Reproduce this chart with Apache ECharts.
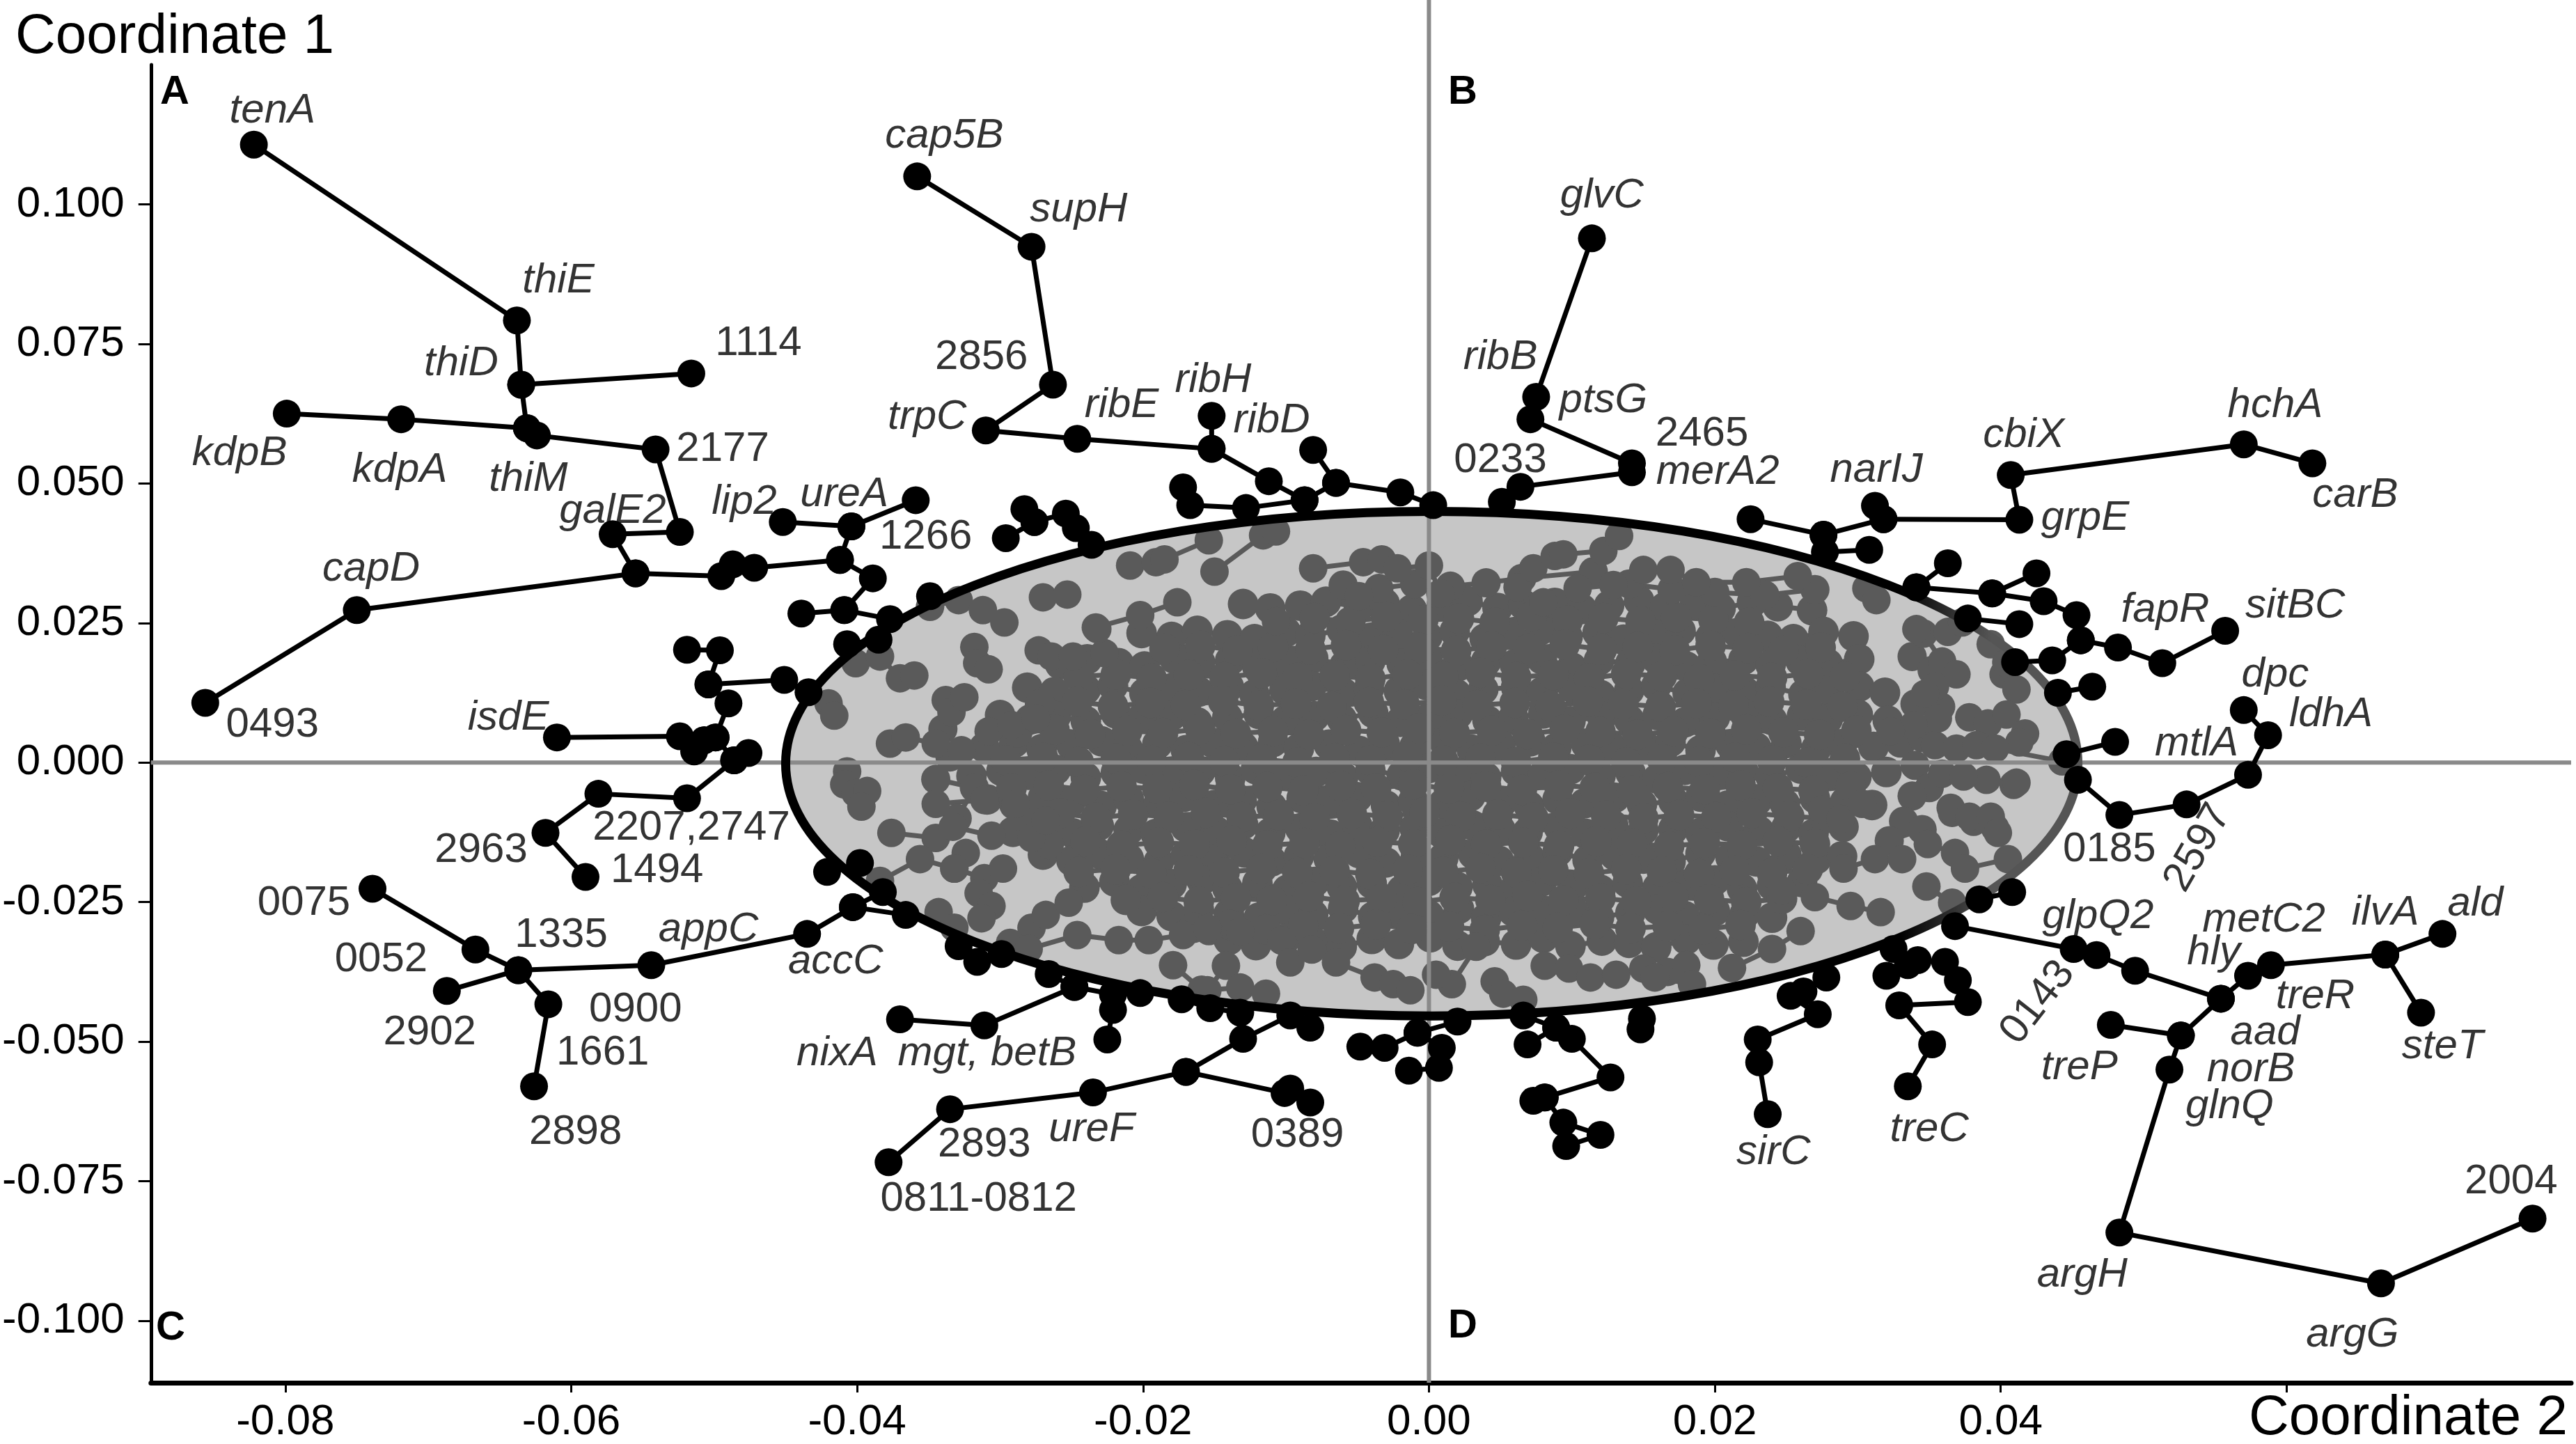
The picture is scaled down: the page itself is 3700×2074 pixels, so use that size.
<!DOCTYPE html>
<html><head><meta charset="utf-8">
<script src="https://cdn.jsdelivr.net/npm/echarts@6/dist/echarts.min.js"></script>
<style>html,body{margin:0;padding:0;background:#fff}#c{width:3700px;height:2074px}</style>
</head><body><div id="c"></div>
<script>
// ---------- axes ----------
const xRange = [-0.0894, 0.0799];
const yRange = [-0.1111, 0.125];
const xTickValues = [-0.08, -0.06, -0.04, -0.02, 0, 0.02, 0.04, 0.06];
const xLabelValues = [-0.08, -0.06, -0.04, -0.02, 0, 0.02, 0.04];
const yTickValues = [-0.1, -0.075, -0.05, -0.025, 0, 0.025, 0.05, 0.075, 0.1];
// confidence ellipse: centre x, centre y, radius x, radius y
const ellipseSpec = [0.0002, -0.0002, 0.0452, 0.0452];
const refLineV = [[0, -0.1111], [0, 0.1366]];
const refLineH = [[-0.0894, 0], [0.0799, 0]];

// ---------- dense core of the tree (inside ellipse) ----------
const coreRowA = [[-.0130,.0284],[-.0111,.0276],[-.0090,.0281],[-.0072,.0288],[-.0049,.0279],[-.0031,.0285],[-.0012,.0274],[.0009,.0282],[.0027,.0289],[.0048,.0277],[.0066,.0283],[.0088,.0286],[.0107,.0275],[.0126,.0281],[.0147,.0290],[.0165,.0278],[.0186,.0284],[.0204,.0276],[.0226,.0287],[.0244,.0280],[.0268,.0273]];
const coreRowB = [[-.0201,.0232],[-.0180,.0225],[-.0162,.0236],[-.0141,.0228],[-.0122,.0221],[-.0100,.0234],[-.0083,.0227],[-.0061,.0238],[-.0040,.0224],[-.0022,.0231],[-.0001,.0226],[.0018,.0235],[.0039,.0222],[.0057,.0230],[.0078,.0237],[.0097,.0225],[.0118,.0233],[.0136,.0220],[.0158,.0229],[.0176,.0236],[.0197,.0224],[.0216,.0232],[.0237,.0227],[.0255,.0221],[.0276,.0234],[.0297,.0226]];
const coreRowC = [[-.0258,.0176],[-.0239,.0185],[-.0217,.0178],[-.0199,.0172],[-.0178,.0186],[-.0160,.0179],[-.0139,.0183],[-.0120,.0171],[-.0099,.0180],[-.0081,.0187],[-.0059,.0174],[-.0041,.0182],[-.0019,.0177],[-.0001,.0188],[.0021,.0173],[.0040,.0181],[.0060,.0176],[.0079,.0185],[.0100,.0170],[.0119,.0183],[.0141,.0178],[.0159,.0186],[.0180,.0172],[.0198,.0180],[.0220,.0184],[.0239,.0175],[.0260,.0182],[.0279,.0177],[.0301,.0185]];
const coreRowD = [[-.0281,.0134],[-.0262,.0126],[-.0240,.0131],[-.0221,.0138],[-.0199,.0124],[-.0180,.0133],[-.0161,.0127],[-.0140,.0136],[-.0122,.0122],[-.0101,.0130],[-.0082,.0137],[-.0060,.0125],[-.0042,.0132],[-.0021,.0128],[-.0002,.0139],[.0019,.0123],[.0038,.0131],[.0061,.0135],[.0079,.0126],[.0101,.0133],[.0120,.0121],[.0140,.0129],[.0159,.0137],[.0181,.0124],[.0200,.0132],[.0221,.0127],[.0239,.0135],[.0262,.0122],[.0280,.0130],[.0301,.0136],[.0319,.0125]];
const coreRowE = [[-.0300,.0085],[-.0279,.0077],[-.0261,.0083],[-.0240,.0074],[-.0219,.0088],[-.0201,.0079],[-.0180,.0084],[-.0162,.0072],[-.0141,.0081],[-.0119,.0087],[-.0100,.0076],[-.0080,.0083],[-.0061,.0078],[-.0039,.0089],[-.0020,.0073],[.0001,.0082],[.0020,.0086],[.0041,.0075],[.0059,.0080],[.0080,.0088],[.0099,.0074],[.0121,.0083],[.0140,.0077],[.0160,.0085],[.0179,.0072],[.0200,.0081],[.0221,.0087],[.0240,.0076],[.0261,.0084],[.0279,.0078],[.0300,.0086],[.0321,.0075]];
const coreRowF = [[-.0311,.0027],[-.0290,.0036],[-.0271,.0024],[-.0250,.0031],[-.0229,.0038],[-.0211,.0026],[-.0190,.0033],[-.0170,.0022],[-.0151,.0035],[-.0130,.0028],[-.0109,.0037],[-.0091,.0025],[-.0070,.0032],[-.0049,.0021],[-.0031,.0034],[-.0010,.0029],[.0011,.0036],[.0030,.0023],[.0050,.0031],[.0071,.0038],[.0089,.0026],[.0110,.0033],[.0130,.0024],[.0151,.0030],[.0169,.0037],[.0190,.0022],[.0211,.0032],[.0229,.0027],[.0250,.0035],[.0271,.0025],[.0289,.0033],[.0311,.0028],[.0330,.0036]];
const coreRowG = [[-.0320,-.0024],[-.0299,-.0015],[-.0280,-.0022],[-.0261,-.0013],[-.0240,-.0027],[-.0219,-.0018],[-.0200,-.0011],[-.0181,-.0025],[-.0160,-.0016],[-.0139,-.0028],[-.0121,-.0012],[-.0100,-.0021],[-.0079,-.0017],[-.0060,-.0026],[-.0041,-.0014],[-.0019,-.0023],[.0000,-.0010],[.0021,-.0019],[.0040,-.0027],[.0061,-.0015],[.0080,-.0022],[.0099,-.0012],[.0120,-.0024],[.0141,-.0018],[.0160,-.0029],[.0179,-.0013],[.0201,-.0021],[.0220,-.0016],[.0239,-.0025],[.0260,-.0011],[.0281,-.0020],[.0299,-.0026],[.0320,-.0017]];
const coreRowH = [[-.0309,-.0066],[-.0290,-.0075],[-.0270,-.0063],[-.0251,-.0072],[-.0229,-.0078],[-.0210,-.0065],[-.0189,-.0073],[-.0171,-.0061],[-.0150,-.0076],[-.0131,-.0068],[-.0110,-.0079],[-.0089,-.0064],[-.0071,-.0071],[-.0050,-.0062],[-.0030,-.0077],[-.0011,-.0069],[.0010,-.0074],[.0029,-.0060],[.0051,-.0072],[.0070,-.0078],[.0090,-.0066],[.0109,-.0073],[.0130,-.0063],[.0149,-.0075],[.0171,-.0069],[.0190,-.0061],[.0209,-.0077],[.0230,-.0067],[.0249,-.0074],[.0270,-.0064],[.0291,-.0071],[.0310,-.0076]];
const coreRowI = [[-.0291,-.0124],[-.0270,-.0115],[-.0249,-.0127],[-.0231,-.0113],[-.0210,-.0121],[-.0191,-.0128],[-.0170,-.0116],[-.0149,-.0123],[-.0130,-.0111],[-.0111,-.0126],[-.0090,-.0118],[-.0069,-.0129],[-.0050,-.0114],[-.0031,-.0122],[-.0010,-.0117],[.0009,-.0127],[.0030,-.0112],[.0050,-.0120],[.0069,-.0125],[.0091,-.0116],[.0110,-.0128],[.0129,-.0113],[.0150,-.0121],[.0171,-.0119],[.0190,-.0126],[.0209,-.0114],[.0231,-.0123],[.0250,-.0117],[.0269,-.0128],[.0290,-.0115]];
const coreRowJ = [[-.0270,-.0165],[-.0250,-.0176],[-.0231,-.0163],[-.0210,-.0172],[-.0189,-.0178],[-.0170,-.0166],[-.0151,-.0174],[-.0129,-.0161],[-.0110,-.0177],[-.0091,-.0168],[-.0070,-.0173],[-.0049,-.0162],[-.0030,-.0179],[-.0009,-.0167],[.0010,-.0171],[.0031,-.0164],[.0049,-.0176],[.0070,-.0169],[.0090,-.0160],[.0111,-.0175],[.0130,-.0166],[.0150,-.0172],[.0169,-.0178],[.0190,-.0163],[.0211,-.0170],[.0229,-.0177],[.0250,-.0165],[.0271,-.0173],[.0289,-.0168]];
const coreRowK = [[-.0241,-.0224],[-.0220,-.0213],[-.0201,-.0227],[-.0180,-.0218],[-.0159,-.0211],[-.0141,-.0225],[-.0120,-.0216],[-.0099,-.0228],[-.0080,-.0214],[-.0061,-.0222],[-.0040,-.0217],[-.0019,-.0229],[.0000,-.0212],[.0020,-.0223],[.0041,-.0219],[.0060,-.0226],[.0079,-.0213],[.0101,-.0221],[.0120,-.0228],[.0139,-.0215],[.0160,-.0224],[.0181,-.0218],[.0200,-.0211],[.0219,-.0226],[.0240,-.0220],[.0261,-.0214]];
const coreRowL = [[-.0201,-.0266],[-.0180,-.0275],[-.0161,-.0263],[-.0140,-.0271],[-.0119,-.0278],[-.0100,-.0264],[-.0081,-.0273],[-.0060,-.0261],[-.0039,-.0276],[-.0021,-.0268],[.0000,-.0274],[.0021,-.0262],[.0040,-.0279],[.0059,-.0267],[.0080,-.0272],[.0101,-.0265],[.0119,-.0277],[.0141,-.0269],[.0160,-.0263],[.0179,-.0275],[.0200,-.0266],[.0221,-.0271],[.0240,-.0278]];
const coreRowM = [[-.0140,-.0318],[-.0121,-.0327],[-.0100,-.0315],[-.0079,-.0324],[-.0061,-.0330],[-.0040,-.0316],[-.0021,-.0325],[.0001,-.0313],[.0020,-.0328],[.0039,-.0320],[.0061,-.0326],[.0080,-.0314],[.0099,-.0329],[.0121,-.0319],[.0140,-.0323],[.0159,-.0331],[.0180,-.0317],[.0199,-.0326],[.0220,-.0321]];
// in-between rows of the densest part
const midRowAB = [[-.0080,.0259],[-.0055,.0252],[-.0030,.0261],[-.0004,.0255],[.0021,.0258],[.0046,.0251],[.0072,.0262],[.0097,.0254],[.0122,.0259],[.0148,.0253],[.0173,.0260],[.0199,.0256],[.0224,.0251]];
const midRowBC = [[-.0185,.0204],[-.0160,.0209],[-.0134,.0201],[-.0109,.0207],[-.0083,.0203],[-.0058,.0210],[-.0032,.0202],[-.0007,.0206],[.0019,.0200],[.0044,.0208],[.0070,.0204],[.0095,.0211],[.0121,.0203],[.0146,.0207],[.0172,.0201],[.0197,.0209],[.0223,.0205],[.0248,.0200],[.0274,.0206]];
const midRowCD = [[-.0245,.0154],[-.0219,.0158],[-.0194,.0151],[-.0168,.0157],[-.0143,.0153],[-.0117,.0160],[-.0092,.0152],[-.0066,.0156],[-.0041,.0150],[-.0015,.0158],[.0010,.0154],[.0036,.0161],[.0061,.0153],[.0087,.0157],[.0112,.0151],[.0138,.0159],[.0163,.0155],[.0189,.0150],[.0214,.0156],[.0240,.0152],[.0265,.0159],[.0291,.0154]];
const midRowDE = [[-.0272,.0104],[-.0246,.0109],[-.0221,.0101],[-.0195,.0107],[-.0170,.0103],[-.0144,.0110],[-.0119,.0102],[-.0093,.0106],[-.0068,.0100],[-.0042,.0108],[-.0017,.0104],[.0009,.0111],[.0034,.0103],[.0060,.0107],[.0085,.0101],[.0111,.0109],[.0136,.0105],[.0162,.0100],[.0187,.0106],[.0213,.0102],[.0238,.0109],[.0264,.0104],[.0289,.0100]];
const midRowEF = [[-.0288,.0054],[-.0262,.0059],[-.0237,.0051],[-.0211,.0057],[-.0186,.0053],[-.0160,.0060],[-.0135,.0052],[-.0109,.0056],[-.0084,.0050],[-.0058,.0058],[-.0033,.0054],[-.0007,.0061],[.0018,.0053],[.0044,.0057],[.0069,.0051],[.0095,.0059],[.0120,.0055],[.0146,.0050],[.0171,.0056],[.0197,.0052],[.0222,.0059],[.0248,.0054],[.0273,.0050],[.0299,.0057]];
const midRowFG = [[-.0296,.0004],[-.0270,.0009],[-.0245,.0001],[-.0219,.0007],[-.0194,.0003],[-.0168,.0010],[-.0143,.0002],[-.0117,.0006],[-.0092,.0000],[-.0066,.0008],[-.0041,.0004],[-.0015,.0011],[.0010,.0003],[.0036,.0007],[.0061,.0001],[.0087,.0009],[.0112,.0005],[.0138,.0000],[.0163,.0006],[.0189,.0002],[.0214,.0009],[.0240,.0004],[.0265,.0000],[.0291,.0007]];
const midRowGH = [[-.0292,-.0046],[-.0266,-.0041],[-.0241,-.0049],[-.0215,-.0043],[-.0190,-.0047],[-.0164,-.0040],[-.0139,-.0048],[-.0113,-.0044],[-.0088,-.0050],[-.0062,-.0042],[-.0037,-.0046],[-.0011,-.0039],[.0014,-.0047],[.0040,-.0043],[.0065,-.0049],[.0091,-.0041],[.0116,-.0045],[.0142,-.0050],[.0167,-.0044],[.0193,-.0048],[.0218,-.0041],[.0244,-.0046],[.0269,-.0050],[.0295,-.0043]];
const midRowHI = [[-.0284,-.0096],[-.0258,-.0091],[-.0233,-.0099],[-.0207,-.0093],[-.0182,-.0097],[-.0156,-.0090],[-.0131,-.0098],[-.0105,-.0094],[-.0080,-.0100],[-.0054,-.0092],[-.0029,-.0096],[-.0003,-.0089],[.0022,-.0097],[.0048,-.0093],[.0073,-.0099],[.0099,-.0091],[.0124,-.0095],[.0150,-.0100],[.0175,-.0094],[.0201,-.0098],[.0226,-.0091],[.0252,-.0096],[.0277,-.0100]];
const midRowIJ = [[-.0266,-.0146],[-.0240,-.0141],[-.0215,-.0149],[-.0189,-.0143],[-.0164,-.0147],[-.0138,-.0140],[-.0113,-.0148],[-.0087,-.0144],[-.0062,-.0150],[-.0036,-.0142],[-.0011,-.0146],[.0015,-.0139],[.0040,-.0147],[.0066,-.0143],[.0091,-.0149],[.0117,-.0141],[.0142,-.0145],[.0168,-.0150],[.0193,-.0144],[.0219,-.0148],[.0244,-.0141],[.0270,-.0146]];
const midRowJK = [[-.0245,-.0196],[-.0219,-.0191],[-.0194,-.0199],[-.0168,-.0193],[-.0143,-.0197],[-.0117,-.0190],[-.0092,-.0198],[-.0066,-.0194],[-.0041,-.0200],[-.0015,-.0192],[.0010,-.0196],[.0036,-.0189],[.0061,-.0197],[.0087,-.0193],[.0112,-.0199],[.0138,-.0191],[.0163,-.0195],[.0189,-.0200],[.0214,-.0194],[.0240,-.0198],[.0265,-.0191]];
const midRowKL = [[-.0212,-.0246],[-.0186,-.0241],[-.0161,-.0249],[-.0135,-.0243],[-.0110,-.0247],[-.0084,-.0240],[-.0059,-.0248],[-.0033,-.0244],[-.0008,-.0250],[.0018,-.0242],[.0043,-.0246],[.0069,-.0239],[.0094,-.0247],[.0120,-.0243],[.0145,-.0249],[.0171,-.0241],[.0196,-.0245],[.0222,-.0250],[.0247,-.0244]];
const midRowLM = [[-.0165,-.0296],[-.0139,-.0291],[-.0114,-.0299],[-.0088,-.0293],[-.0063,-.0297],[-.0037,-.0290],[-.0012,-.0298],[.0014,-.0294],[.0039,-.0300],[.0065,-.0292],[.0090,-.0296],[.0116,-.0289],[.0141,-.0297],[.0167,-.0293],[.0192,-.0299],[.0218,-.0291]];
// extra fringe of the dense part
const fringeRight = [[.0338,.0190],[.0352,.0165],[.0340,.0105],[.0358,.0100],[.0345,.0045],[.0340,-.0005],[.0350,-.0045],[.0338,-.0060],[.0332,-.0105],[.0345,-.0120],[.0322,-.0140]];
const fringeTop = [[-.0060,.0318],[-.0035,.0312],[-.0010,.0320],[.0015,.0316],[.0040,.0322],[.0065,.0330],[.0115,.0342],[.0140,.0320],[.0170,.0310],[.0200,.0305],[.0235,.0300],[.0270,.0310]];
const fringeLeft = [[-.0340,.0060],[-.0335,.0010],[-.0345,-.0030],[-.0318,-.0045],[-.0330,-.0100]];

// ---------- sparse inner chains (inside ellipse) ----------
const innerUL = [
  [[-.0349,.0279],[-.0329,.0291],[-.0312,.0273],[-.0297,.0251]],
  [[-.0270,.0296],[-.0253,.0301]],
  [[-.0318,.0207],[-.0316,.0178],[-.0308,.0167]],
  [[-.0273,.0201],[-.0264,.0190],[-.0249,.0190],[-.0227,.0196],[-.0232,.0239]],
  [[-.0401,.0178],[-.0384,.0190],[-.0370,.0151],[-.0360,.0156]],
  [[-.0420,.0106],[-.0416,.0084]],
  [[-.0338,.0112],[-.0334,.0090],[-.0325,.0117]],
  [[-.0377,.0034],[-.0366,.0045],[-.0345,.0034],[-.0327,.0022],[-.0308,.0056],[-.0292,.0067],[-.0275,.0079]],
  [[-.0407,-.0016],[-.0409,-.0039],[-.0401,-.0055],[-.0393,-.0051],[-.0397,-.0079]]
];
const innerLL = [
  [[-.0345,-.0074],[-.0311,-.0067],[-.0289,-.0074]],
  [[-.0376,-.0126],[-.0345,-.0135],[-.0333,-.0115],[-.0306,-.0131],[-.0278,-.0135],[-.0268,-.0104]],
  [[-.0384,-.0212],[-.0356,-.0173],[-.0332,-.0190],[-.0324,-.0162]],
  [[-.0332,-.0190],[-.0311,-.0207],[-.0298,-.0190]],
  [[-.0315,-.0234],[-.0306,-.0257],[-.0313,-.0279]],
  [[-.0343,-.0268],[-.0332,-.0296]],
  [[-.0278,-.0296],[-.0268,-.0273],[-.0252,-.0251]],
  [[-.0293,-.0323],[-.0280,-.0334],[-.0246,-.0309],[-.0217,-.0318],[-.0196,-.0318],[-.0172,-.0309],[-.0154,-.0302]],
  [[-.0179,-.0363],[-.0159,-.0407]]
];
const innerBottom = [
  [[-.0155,-.0297],[-.0132,-.0303],[-.0142,-.0364],[-.0155,-.0408],[-.0132,-.0403],[-.0114,-.0414]],
  [[-.0103,-.0319],[-.0097,-.0358],[-.0082,-.0335],[-.0065,-.0358],[-.0038,-.0385],[-.0025,-.0397],[-.0013,-.0408]],
  [[.0033,-.0330],[.0016,-.0397],[.0005,-.0380]],
  [[.0046,-.0392],[.0052,-.0414],[.0066,-.0425]],
  [[.0081,-.0364],[.0098,-.0369],[.0113,-.0385],[.0131,-.0380],[.0150,-.0369],[.0167,-.0375]],
  [[.0180,-.0363],[.0158,-.0385],[.0184,-.0397]],
  [[.0260,-.0302],[.0240,-.0334],[.0212,-.0368]]
];
const innerRight = [
  [[.0247,-.0229],[.0270,-.0241],[.0295,-.0257],[.0316,-.0268]],
  [[.0290,-.0190],[.0312,-.0173],[.0331,-.0173]],
  [[.0349,-.0146],[.0368,-.0162],[.0375,-.0190],[.0405,-.0173]],
  [[.0366,-.0090],[.0381,-.0106],[.0396,-.0117]],
  [[.0275,-.0085],[.0288,-.0101],[.0303,-.0074]],
  [[.0390,-.0031],[.0409,-.0040]],
  [[.0366,-.0251],[.0348,-.0222]],
  [[.0346,.0231],[.0359,.0181],[.0369,.0158],[.0354,.0136]],
  [[.0404,.0181],[.0402,.0158],[.0411,.0131]],
  [[.0378,.0081],[.0391,.0070],[.0404,.0086],[.0417,.0052],[.0413,.0036]],
  [[.0354,.0031],[.0369,.0025],[.0383,.0031],[.0396,.0025],[.0443,.0002]],
  [[.0359,-.0020],[.0374,-.0025],[.0411,-.0036]],
  [[.0365,-.0081],[.0378,-.0097],[.0393,-.0097],[.0398,-.0126]],
  [[.0306,.0312],[.0313,.0291]],
  [[.0341,.0239],[.0363,.0234],[.0373,.0251]],
  [[.0393,.0212],[.0404,.0178]],
  [[.0347,.0123],[.0356,.0079],[.0339,.0067],[.0323,.0056]]
];
const innerTop = [
  [[-.0209,.0353],[-.0191,.0359],[-.0185,.0364],[-.0154,.0398]],
  [[-.0150,.0342],[-.0116,.0407],[-.0107,.0414]],
  [[-.0233,.0242],[-.0202,.0264],[-.0176,.0287]],
  [[-.0081,.0348],[-.0046,.0359],[-.0033,.0364],[-.0022,.0348],[.0000,.0353],[.0008,.0303]],
  [[-.0107,.0253],[-.0049,.0298]],
  [[.0062,.0314],[.0073,.0348],[.0088,.0370],[.0094,.0373],[.0122,.0379],[.0133,.0406]],
  [[.0080,.0287],[.0104,.0312],[.0129,.0318],[.0150,.0345],[.0169,.0345],[.0187,.0323],[.0222,.0323],[.0258,.0334]]
];

// ---------- outer branches (outside ellipse, black) ----------
const brTenA = [[-.0822,.1107],[-.0638,.0792],[-.0635,.0677],[-.0631,.0599],[-.0624,.0586],[-.0541,.0561],[-.0524,.0413],[-.0571,.0409],[-.0555,.0339],[-.0750,.0273],[-.0856,.0107]];
const br1114 = [[-.0635,.0677],[-.0516,.0697]];
const brKdp = [[-.0799,.0625],[-.0719,.0615],[-.0631,.0599]];
const brUreA = [[-.0555,.0339],[-.0495,.0334],[-.0487,.0355],[-.0472,.0349],[-.0412,.0363],[-.0404,.0423],[-.0452,.0431]];
const br1266 = [[-.0404,.0423],[-.0359,.0470]];
const brLeftA = [[-.0412,.0363],[-.0389,.0330],[-.0409,.0273],[-.0439,.0267]];
const brLeftA2 = [[-.0409,.0273],[-.0377,.0257]];
const brEdgeA = [[-.0407,.0212],[-.0385,.0220]];
const brEdgeA2 = [[-.0349,.0298]];
const brTopCl1 = [[-.0296,.0402],[-.0276,.0431],[-.0283,.0454]];
const brTopCl2 = [[-.0276,.0431],[-.0254,.0446],[-.0247,.0420],[-.0236,.0390]];
const brLeftCl1 = [[-.0519,.0202],[-.0496,.0201],[-.0504,.0140],[-.0451,.0148],[-.0434,.0126]];
const brLeftCl2 = [[-.0504,.0140],[-.0490,.0106],[-.0499,.0045],[-.0507,.0040],[-.0524,.0047],[-.0610,.0045]];
const brLeftCl3 = [[-.0507,.0040],[-.0514,.0020]];
const brLeftCl4 = [[-.0499,.0045],[-.0486,.0004],[-.0476,.0017]];
const br2207 = [[-.0486,.0004],[-.0519,-.0064],[-.0581,-.0056],[-.0618,-.0126],[-.0590,-.0205]];
const br0075 = [[-.0739,-.0226],[-.0667,-.0335],[-.0637,-.0372],[-.0616,-.0433],[-.0626,-.0580]];
const br2902 = [[-.0687,-.0409],[-.0637,-.0372],[-.0544,-.0363],[-.0435,-.0307],[-.0403,-.0259],[-.0366,-.0273]];
const brAccC2 = [[-.0403,-.0259],[-.0382,-.0232]];
const brEdgeC = [[-.0421,-.0196],[-.0398,-.0180]];
const brBotL1 = [[-.0329,-.0329],[-.0316,-.0357],[-.0299,-.0343]];
const brBotL2 = [[-.0266,-.0379],[-.0248,-.0402],[-.0221,-.0415],[-.0202,-.0413]];
const brNixA = [[-.0370,-.0460],[-.0311,-.0471],[-.0248,-.0402]];
const brBotL3 = [[-.0221,-.0415],[-.0221,-.0443],[-.0225,-.0496]];
const brBotL4 = [[-.0173,-.0424],[-.0153,-.0440],[-.0132,-.0448]];
const brUreF = [[-.0378,-.0716],[-.0335,-.0621],[-.0235,-.0591],[-.0170,-.0554],[-.0130,-.0495],[-.0097,-.0453],[-.0083,-.0475]];
const br0389 = [[-.0170,-.0554],[-.0101,-.0592],[-.0097,-.0584],[-.0083,-.0609]];
const brBotC1 = [[-.0048,-.0509],[-.0031,-.0511],[-.0008,-.0484],[.0020,-.0464]];
const brBotC2 = [[-.0008,-.0484],[.0009,-.0511],[.0007,-.0547],[-.0014,-.0552]];
const brBotC3 = [[.0066,-.0453],[.0089,-.0475],[.0069,-.0505]];
const brBotC4 = [[.0089,-.0475],[.0100,-.0495],[.0127,-.0564],[.0081,-.0600],[.0073,-.0606]];
const brBotC5 = [[.0081,-.0600],[.0094,-.0645],[.0120,-.0667],[.0096,-.0687]];
const brBotC6 = [[.0149,-.0459],[.0148,-.0478]];
const brSirC = [[.0278,-.0385],[.0262,-.0410],[.0253,-.0418],[.0272,-.0451],[.0230,-.0496],[.0231,-.0537],[.0237,-.0630]];
const brTreC1 = [[.0325,-.0334],[.0335,-.0363],[.0320,-.0382]];
const brTreC2 = [[.0342,-.0354],[.0361,-.0357],[.0370,-.0390],[.0377,-.0429],[.0329,-.0435],[.0352,-.0505],[.0335,-.0580]];
const brGlpQ2 = [[.0368,-.0293],[.0451,-.0334],[.0467,-.0345],[.0494,-.0373],[.0554,-.0423],[.0573,-.0382],[.0589,-.0363],[.0669,-.0344],[.0709,-.0307]];
const brSteT = [[.0669,-.0344],[.0694,-.0448]];
const brTreP = [[.0554,-.0423],[.0526,-.0489],[.0477,-.0470]];
const brArg = [[.0526,-.0489],[.0518,-.0550],[.0483,-.0842],[.0666,-.0933],[.0772,-.0817]];
const brEdgeD = [[.0385,-.0245],[.0408,-.0232]];
const brLdhA = [[.0454,-.0031],[.0483,-.0094],[.0530,-.0075],[.0573,-.0022],[.0587,.0049],[.0570,.0094]];
const brMtlA = [[.0446,.0015],[.0480,.0037]];
const brUR1 = [[.0341,.0314],[.0394,.0303],[.0425,.0339]];
const brUR2 = [[.0394,.0303],[.0430,.0289],[.0453,.0264],[.0456,.0219],[.0482,.0206],[.0513,.0178],[.0557,.0236]];
const brUR3 = [[.0456,.0219],[.0436,.0183],[.0410,.0180]];
const brUR4 = [[.0440,.0125],[.0464,.0136]];
const brUR5 = [[.0363,.0357],[.0341,.0314]];
const brUR6 = [[.0377,.0258],[.0413,.0248]];
const brNarIJ = [[.0225,.0436],[.0276,.0408],[.0318,.0436],[.0312,.0460]];
const brGrpE = [[.0318,.0436],[.0413,.0435],[.0407,.0515],[.0570,.0570],[.0618,.0536]];
const brNarIJ2 = [[.0276,.0408],[.0277,.0377],[.0308,.0381]];
const brGlvC = [[.0114,.0939],[.0075,.0655],[.0071,.0615],[.0142,.0536],[.0142,.0520],[.0064,.0494],[.0051,.0467]];
const brCap5B = [[-.0358,.1050],[-.0278,.0924],[-.0263,.0677],[-.0310,.0595],[-.0246,.0580],[-.0152,.0562],[-.0112,.0504],[-.0087,.0470],[-.0128,.0456],[-.0167,.0461],[-.0172,.0493]];
const brRibH = [[-.0152,.0621],[-.0152,.0562]];
const brRibD = [[-.0087,.0470],[-.0065,.0501],[-.0081,.0560]];
const brRibD2 = [[-.0065,.0501],[-.0020,.0484],[.0003,.0461]];

// ---------- labels ----------
const geneLabels = [['tenA',-.0809,.1167],['thiE',-.0609,.0863],['thiD',-.0677,.0715],['kdpB',-.0832,.0554],['kdpA',-.0720,.0524],['thiM',-.0630,.0508],['galE2',-.0571,.0450],['lip2',-.0479,.0466],['ureA',-.0409,.0480],['capD',-.0740,.0347],['cap5B',-.0339,.1122],['supH',-.0245,.0990],['trpC',-.0351,.0619],['ribE',-.0215,.0640],['ribH',-.0151,.0685],['ribD',-.0110,.0612],['isdE',-.0644,.0080],['glvC',.0121,.1015],['ribB',.0050,.0726],['ptsG',.0122,.0648],['merA2',.0202,.0520],['narIJ',.0313,.0524],['cbiX',.0416,.0586],['hchA',.0592,.0640],['carB',.0648,.0479],['grpE',.0459,.0438],['fapR',.0515,.0273],['sitBC',.0606,.0281],['dpc',.0592,.0157],['ldhA',.0631,.0086],['mtlA',.0537,.0034],['glpQ2',.0468,-.0276],['metC2',.0584,-.0282],['ilvA',.0669,-.0269],['ald',.0732,-.0253],['hly',.0549,-.0340],['treR',.0620,-.0419],['aad',.0585,-.0484],['norB',.0575,-.0550],['glnQ',.0560,-.0616],['steT',.0709,-.0509],['treP',.0455,-.0546],['argH',.0457,-.0918],['argG',.0646,-.1025],['sirC',.0241,-.0698],['treC',.0350,-.0657],['appC',-.0504,-.0299],['accC',-.0415,-.0357],['nixA',-.0414,-.0521],['mgt, betB',-.0309,-.0521],['ureF',-.0236,-.0657]];
const idLabels = [['1114',-.0469,.0751],['2177',-.0494,.0561],['1266',-.0352,.0404],['2856',-.0313,.0726],['0493',-.0809,.0067],['2465',.0191,.0589],['0233',.0050,.0541],['0185',.0476,-.0156],['2004',.0757,-.0751],['2207,2747',-.0516,-.0117],['2963',-.0663,-.0157],['1494',-.0540,-.0193],['0075',-.0787,-.0252],['0052',-.0733,-.0353],['1335',-.0607,-.0309],['0900',-.0555,-.0443],['2902',-.0699,-.0484],['1661',-.0578,-.0521],['2898',-.0597,-.0662],['2893',-.0311,-.0685],['0811-0812',-.0315,-.0782],['0389',-.0092,-.0667]];
const rotLabels = [['0143',.0426,-.0430],['2597',.0538,-.0153]];
const rotAngle = {'0143': 52, '2597': 60};
const quadrantLetters = ['A','B','C','D'];

// ---------- build ----------
const FONT = '"Liberation Sans", Arial, Helvetica, sans-serif';
const GRAY = '#5a5a5a';
const coreRows = [coreRowA,coreRowB,coreRowC,coreRowD,coreRowE,coreRowF,coreRowG,coreRowH,coreRowI,coreRowJ,coreRowK,coreRowL,coreRowM];
const midRows = [midRowAB,midRowBC,midRowCD,midRowDE,midRowEF,midRowFG,midRowGH,midRowHI,midRowIJ,midRowJK,midRowKL,midRowLM];
const fringeRows = [fringeRight, fringeTop, fringeLeft];
const innerChains = [].concat(innerUL, innerLL, innerBottom, innerRight, innerTop);
const outerBranches = [brTenA,br1114,brKdp,brUreA,br1266,brLeftA,brLeftA2,brEdgeA,brEdgeA2,brTopCl1,brTopCl2,brLeftCl1,brLeftCl2,brLeftCl3,brLeftCl4,br2207,br0075,br2902,brAccC2,brEdgeC,brBotL1,brBotL2,brNixA,brBotL3,brBotL4,brUreF,br0389,brBotC1,brBotC2,brBotC3,brBotC4,brBotC5,brBotC6,brSirC,brTreC1,brTreC2,brGlpQ2,brSteT,brTreP,brArg,brEdgeD,brLdhA,brMtlA,brUR1,brUR2,brUR3,brUR4,brUR5,brUR6,brNarIJ,brGrpE,brNarIJ2,brGlvC,brCap5B,brRibH,brRibD,brRibD2];

function chain(data, color, z, size) {
  return {type:'line', data:data, symbol:'circle', symbolSize:size, showSymbol:true,
    itemStyle:{color:color, borderWidth:0}, lineStyle:{color:color, width:7},
    z:z, silent:true, animation:false, emphasis:{disabled:true}};
}
function ellipseSeries(fill, stroke, lw, z) {
  return {type:'custom', coordinateSystem:'cartesian2d', z:z, silent:true, animation:false, clip:false,
    data:[ellipseSpec],
    renderItem:function(params, api){
      const c = api.coord([api.value(0), api.value(1)]);
      const s = api.size([api.value(2), api.value(3)]);
      return {type:'ellipse', shape:{cx:c[0], cy:c[1], rx:s[0], ry:s[1]},
        style:{fill:fill, stroke:stroke, lineWidth:lw}};
    }};
}
function labelSeries(list, italic) {
  return {type:'scatter', symbolSize:1, itemStyle:{color:'rgba(0,0,0,0)'}, z:8, silent:true, animation:false,
    data:list.map(function(d){ return {name:d[0], value:[d[1], d[2]],
      label:{rotate: rotAngle[d[0]] || 0}}; }),
    label:{show:true, position:'inside', formatter:'{b}', color:'#000', fontSize:60,
      fontFamily:FONT, fontStyle: italic ? 'italic' : 'normal'}};
}

const ellipseStroke = {type:'linear', x:0, y:0, x2:1, y2:0, colorStops:[
  {offset:0, color:'#000'}, {offset:0.86, color:'#000'}, {offset:0.93, color:'#555'}, {offset:1, color:'#555'}]};

const series = [];
series.push(ellipseSeries('#c6c6c6', 'none', 0, 1));
coreRows.forEach(function(r){ series.push(chain(r, GRAY, 2, 44)); });
midRows.forEach(function(r){ series.push(chain(r, GRAY, 2, 44)); });
fringeRows.forEach(function(r){ series.push(chain(r, GRAY, 2, 42)); });
innerChains.forEach(function(r){ series.push(chain(r, GRAY, 2, 41)); });
series.push({type:'line', data:refLineH, symbol:'none', lineStyle:{color:'#8a8a8a', width:6}, z:3, silent:true, animation:false});
series.push({type:'line', data:refLineV, symbol:'none', clip:false, lineStyle:{color:'#8a8a8a', width:6}, z:3, silent:true, animation:false});
series.push(ellipseSeries('none', ellipseStroke, 13, 4));
outerBranches.forEach(function(r){ series.push(chain(r, '#000', 5, 40)); });
series.push(labelSeries(geneLabels, true));
series.push(labelSeries(idLabels, false));
series.push(labelSeries(rotLabels, false));

const letterPos = {A:[230,133], B:[2080,133], C:[224,1908], D:[2080,1905]};
const graphics = [
  {type:'text', left:22, top:14, style:{text:'Coordinate 1', fontSize:80, fontFamily:FONT, fill:'#000'}},
  {type:'text', right:12, top:1998, style:{text:'Coordinate 2', fontSize:80, fontFamily:FONT, fill:'#000'}}
];
quadrantLetters.forEach(function(k){
  graphics.push({type:'text', x:letterPos[k][0], y:letterPos[k][1],
    style:{text:k, fontSize:58, fontWeight:'bold', fontFamily:FONT, fill:'#000', textVerticalAlign:'middle'}});
});

const chart = echarts.init(document.getElementById('c'), null, {renderer:'canvas'});
chart.setOption({
  backgroundColor:'#fff',
  animation:false,
  grid:{left:205, right:7, top:93, bottom:88, containLabel:false},
  xAxis:{type:'value', min:xRange[0], max:xRange[1],
    axisLine:{show:true, onZero:false, lineStyle:{color:'#000', width:7}},
    axisTick:{show:true, customValues:xTickValues, length:14, lineStyle:{color:'#000', width:3}},
    axisLabel:{customValues:xLabelValues, formatter:function(v){return v.toFixed(2);}, fontSize:62, color:'#000', fontFamily:FONT, margin:26},
    splitLine:{show:false}},
  yAxis:{type:'value', min:yRange[0], max:yRange[1],
    axisLine:{show:true, onZero:false, lineStyle:{color:'#000', width:5}},
    axisTick:{show:true, customValues:yTickValues, length:18, lineStyle:{color:'#000', width:3}},
    axisLabel:{customValues:yTickValues, formatter:function(v){return v.toFixed(3);}, fontSize:62, color:'#000', fontFamily:FONT, margin:38},
    splitLine:{show:false}},
  graphic:graphics,
  series:series
});
</script></body></html>
